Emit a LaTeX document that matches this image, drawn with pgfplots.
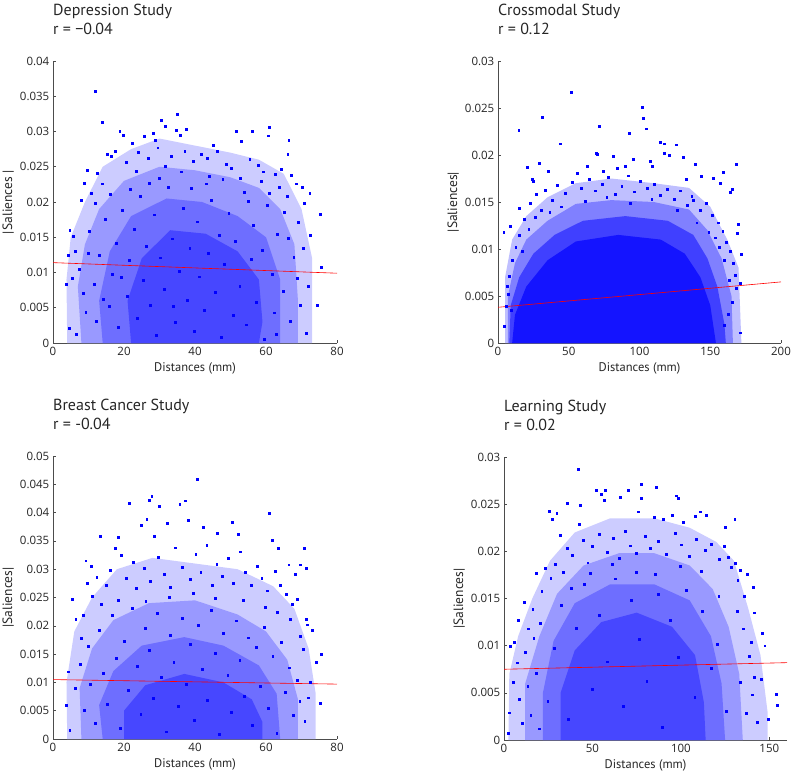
\documentclass[border=0pt]{standalone}
\usepackage{fontspec}
\setmainfont{PT Sans}
\newfontfamily\tickfont{Open Sans}
\usepackage{pgfplots}
\pgfplotsset{compat=1.18}
\definecolor{dotblue}{RGB}{0,0,255}
\newcommand{\tkf}{\tickfont\fontsize{11.5}{13}\selectfont}
\pgfplotsset{
  panel/.style={
    scale only axis, width=284pt, height=282pt, anchor=south west,
    axis x line*=bottom, axis y line*=left,
    axis line style={black!70, line width=0.6pt},
    tick align=inside, major tick length=3pt,
    tick style={black!70, line width=0.6pt},
    xmin=0, ymin=0,
    /pgf/number format/assume math mode=true,
    tick label style={font=\tkf, text=black!85, inner sep=3.5pt},
    xticklabel style={font=\tkf},
    yticklabel style={font=\tkf, /pgf/number format/.cd, fixed, precision=3},
    scaled y ticks=false, scaled x ticks=false,
    xlabel={Distances (mm)}, ylabel={|Saliences|},
    label style={font=\fontsize{12.5}{14}\selectfont, text=black!85},
    xlabel style={at={(axis description cs:0.5,0)}, anchor=north, yshift=-19pt, inner sep=0pt},
    ylabel style={at={(axis description cs:-0.158,0.5)}, anchor=center, font=\fontsize{13.5}{15}\selectfont},
  },
  mydots/.style={only marks, mark=square*, mark size=0.95pt, color=dotblue, mark options={draw=none, fill=dotblue}},
  fit/.style={red, line width=0.6pt},
  lv1/.style={fill=blue!20, draw=none},
  lv2/.style={fill=blue!40, draw=none},
  lv3/.style={fill=blue!57, draw=none},
  lv4/.style={fill=blue!72, draw=none},
}
\newcommand{\ttl}[3]{%
  \node[anchor=base west, inner sep=0pt, font=\fontsize{16}{19}\selectfont, text=black!85] at ([yshift=46pt]#1.north west) {#2};
  \node[anchor=base west, inner sep=0pt, font=\fontsize{16}{19}\selectfont, text=black!85] at ([yshift=27pt]#1.north west) {#3};
}
\begin{document}
\begin{tikzpicture}
\useasboundingbox (0,0) rectangle (794pt,-770pt);

% ---------------- Depression Study ----------------
\begin{axis}[panel, name=a1, at={(53pt,-343pt)}, xmax=80, ymax=0.04, ylabel={|Saliences |},
  xtick={0,20,40,60,80}, ytick={0,0.005,0.01,0.015,0.02,0.025,0.03,0.035,0.04}]
\addplot[lv1] coordinates {(4,0) (3.8,0.009) (5,0.015) (9,0.020) (14,0.025) (22,0.0275) (30,0.029) (40,0.028) (50,0.027) (58,0.026) (65,0.024) (70,0.019) (73,0.012) (73,0)} -- cycle;
\addplot[lv2] coordinates {(8,0) (7,0.008) (9,0.014) (13,0.019) (20,0.023) (30,0.025) (40,0.0245) (50,0.0235) (58,0.022) (64,0.019) (68,0.014) (69,0.006) (69,0)} -- cycle;
\addplot[lv3] coordinates {(14,0) (13,0.006) (16,0.013) (22,0.018) (32,0.0205) (42,0.020) (52,0.018) (60,0.015) (64,0.009) (64,0)} -- cycle;
\addplot[lv4] coordinates {(22,0) (21,0.006) (25,0.012) (33,0.016) (43,0.0155) (52,0.013) (58,0.009) (59,0.003) (58,0)} -- cycle;
\addplot[mydots] coordinates {
(11.8,.0357) (13.9,.0313) (30.6,.0316) (31.5,.0307) (35,.0325) (34.6,.0302) (37.6,.0303) (35.8,.0295) (18.8,.0301) (19.8,.0295)
(56,.0301) (61,.0306) (60.7,.0294) (66.4,.0288) (66.1,.0268) (51.6,.0300) (45.2,.0281) (28.2,.0298) (25.6,.0293) (28.7,.0288)
(75.3,.0183) (72.5,.0153) (75.6,.0107) (74.4,.0054) (72.3,.0212) (70.1,.0221) (70.8,.0198)
(4.7,.016) (4.2,.0125) (3.8,.0084) (4.5,.0021) (5.6,.0151) (6.2,.013) (5.5,.0092) (6.6,.0012) (8.9,.0227) (9.6,.0245) (8,.0203)
(15.2,.0268) (16.5,.0265) (17.4,.0272) (22.3,.0283) (24.1,.0271) (26.8,.0262) (29.5,.0277) (33.2,.0265) (37.1,.0272) (39.4,.0258)
(41.8,.0268) (43.5,.0262) (46.3,.0272) (48.7,.0254) (50.2,.0248) (53.1,.0286) (55.4,.0261) (57.8,.0252) (59.2,.0243) (62.5,.0239)
(64.3,.0247) (67.2,.0238) (68.5,.0226) (12.4,.0241) (13.8,.0226) (10.7,.0213) (11.9,.0198) (20.6,.0257) (23.5,.0244) (31.7,.0251)
(36.2,.0243) (44.1,.0237) (52.8,.0234) (58.6,.0229) (63.7,.0221) (65.9,.0208)
(7.3,.0105) (8.4,.0071) (9.2,.0044) (10.1,.0158) (11.5,.0083) (12.2,.0031) (13.1,.0124) (14.6,.0176) (15.8,.0052) (16.7,.0098)
(17.9,.0141) (18.3,.0022) (19.6,.0189) (20.9,.0067) (21.4,.0118) (22.8,.0161) (23.7,.0035) (24.6,.0208) (25.3,.0089) (26.2,.0137)
(27.5,.0054) (28.4,.0182) (29.1,.0011) (30.2,.0121) (31.3,.0076) (32.4,.0221) (33.6,.0148) (34.3,.0029) (35.5,.0102) (36.7,.0191)
(37.8,.0061) (38.5,.0135) (39.7,.0017) (40.6,.0172) (41.3,.0094) (42.5,.0046) (43.8,.0127) (44.6,.0203) (45.7,.0072) (46.9,.0153)
(47.4,.0008) (48.2,.0112) (49.5,.0184) (50.7,.0039) (51.3,.0145) (52.6,.0081) (53.9,.0214) (54.4,.0026) (55.8,.0119) (56.5,.0167)
(57.3,.0058) (58.9,.0132) (59.6,.0006) (60.4,.0195) (61.7,.0097) (62.3,.0043) (63.1,.0154) (64.8,.0074) (65.2,.0186) (66.7,.0031)
(67.8,.0122) (68.9,.0092) (69.6,.0053) (70.4,.0134) (71.2,.0014) (69.1,.0171) (62.9,.0012) (33.9,.0052) (27.1,.0227) (19.1,.0093)
(14.2,.0062) (9.8,.0128) (43.2,.0226) (47.8,.0232) (38.9,.0219) (29.8,.0234) (21.8,.0218) (16.2,.0211) (54.9,.0201) (60.9,.0213)
(66.3,.0149) (71.8,.0081)};
\addplot[fit] coordinates {(0,0.0114) (80,0.0099)};
\end{axis}
\ttl{a1}{Depression Study}{r = −0.04}

% ---------------- Crossmodal Study ----------------
\begin{axis}[panel, name=a2, at={(498pt,-343pt)}, width=283pt, xmax=200, ymax=0.03,
  xtick={0,50,100,150,200}, ytick={0,0.005,0.01,0.015,0.02,0.025,0.03}]
\addplot[fill=blue!25, draw=none] coordinates {(5,0) (5,0.007) (10,0.011) (20,0.0135) (35,0.0155) (55,0.017) (80,0.0175) (110,0.017) (135,0.0165) (150,0.0145) (162,0.011) (170,0.008) (172,0)} -- cycle;
\addplot[fill=blue!50, draw=none] coordinates {(7,0) (7,0.005) (12,0.0085) (20,0.011) (35,0.013) (55,0.0148) (80,0.0152) (110,0.015) (135,0.0142) (148,0.012) (158,0.009) (165,0.005) (166,0)} -- cycle;
\addplot[fill=blue!75, draw=none] coordinates {(8,0) (9,0.004) (15,0.007) (25,0.0095) (40,0.0115) (60,0.013) (90,0.0135) (120,0.013) (138,0.0115) (148,0.009) (155,0.006) (160,0.002) (161,0)} -- cycle;
\addplot[fill=blue!92, draw=none] coordinates {(10,0) (12,0.003) (20,0.006) (35,0.0088) (55,0.0108) (85,0.0115) (115,0.011) (132,0.0095) (143,0.007) (150,0.004) (154,0)} -- cycle;
\addplot[mydots] coordinates {
(51.5,.0267) (102.1,.0251) (102.8,.0239) (104.5,.0228) (31.1,.0240) (14.6,.0226) (71.8,.0231) (92.7,.0223) (44,.0212) (114.6,.0214)
(117.4,.0212) (125.9,.0211) (117.4,.0202) (121.2,.0200) (130.6,.0198) (69.4,.0202) (70.4,.0201) (81.6,.0199) (29.4,.0191) (20.5,.0187)
(139.1,.0190) (168.2,.0190) (159.3,.0182) (107.5,.0193) (35.3,.0183) (24,.0174) (24.7,.0172) (15,.0143) (4,.0118) (8.7,.0124)
(171.8,.0094) (171,.0064) (171.3,.0011) (169.2,.0117) (169.9,.0126) (165.2,.0164) (164,.016) (156.9,.017) (151.8,.0175) (143.5,.0177)
(132.9,.0174) (136.9,.0156) (74.6,.0183) (55.8,.0181) (62.8,.0188) (84,.0186) (89.9,.0188) (95.8,.0196) (109.2,.0188) (6.4,.006)
(4.5,.0018) (5.9,.0039)
(18.2,.0132) (22.5,.0149) (27.3,.0158) (33.6,.0163) (38.4,.0152) (42.1,.0168) (47.5,.0159) (52.3,.0171) (58.7,.0165) (64.2,.0174)
(68.9,.0162) (73.5,.0169) (78.1,.0176) (82.7,.0158) (87.4,.0167) (91.8,.0178) (96.3,.0161) (100.5,.0172) (105.7,.0165) (110.2,.0169)
(114.8,.0157) (119.6,.0164) (124.3,.0153) (128.9,.0162) (133.5,.0147) (138.1,.0152) (142.7,.0141) (147.2,.0149) (151.6,.0136) (155.3,.0128)
(158.8,.0119) (161.4,.0107) (163.9,.0098) (166.2,.0085) (167.5,.0072) (168.3,.0058) (165.7,.0043) (162.4,.0031) (160.1,.0019) (163.2,.0067)
(159.6,.0088) (156.1,.0102) (153.4,.0112) (12.5,.0102) (10.3,.0088) (8.2,.0071) (7.4,.0052) (9.6,.0035) (14.8,.0115) (17.3,.0098)
(21.7,.0121) (26.1,.0134) (30.8,.0141) (36.5,.0139) (44.7,.0145) (61.4,.0151) (76.8,.0155) (93.2,.0149) (108.6,.0153) (126.7,.0141)
(140.4,.0128) (148.9,.0118)};
\addplot[fit] coordinates {(0,0.0038) (200,0.0065)};
\end{axis}
\ttl{a2}{Crossmodal Study}{r = 0.12}

% ---------------- Breast Cancer Study ----------------
\begin{axis}[panel, name=a3, at={(53pt,-739pt)}, height=283pt, xmax=80, ymax=0.05,
  xtick={0,20,40,60,80}, ytick={0,0.005,0.01,0.015,0.02,0.025,0.03,0.035,0.04,0.045,0.05}]
\addplot[lv1] coordinates {(4,0) (3.8,0.010) (6,0.019) (11,0.025) (18,0.030) (28,0.032) (40,0.031) (52,0.030) (62,0.027) (68,0.023) (72,0.016) (74,0.008) (74,0)} -- cycle;
\addplot[lv2] coordinates {(8,0) (7.5,0.009) (11,0.016) (17,0.021) (27,0.024) (40,0.0245) (52,0.022) (60,0.019) (66,0.014) (69,0.007) (69,0)} -- cycle;
\addplot[lv3] coordinates {(14,0) (13,0.006) (17,0.012) (25,0.0165) (37,0.018) (48,0.0165) (58,0.013) (63,0.008) (64,0)} -- cycle;
\addplot[lv4] coordinates {(20,0) (20,0.005) (26,0.0095) (37,0.0115) (48,0.010) (56,0.007) (59,0.003) (59,0)} -- cycle;
\addplot[mydots] coordinates {
(40.5,.0459) (27.8,.0429) (27.1,.0422) (21.5,.0416) (37.2,.0421) (35.7,.0415) (29.8,.0411) (61,.0399) (26.4,.0388) (38.1,.0386)
(24.9,.0378) (32.2,.0381) (50.4,.0383) (42.4,.0375) (13.2,.0359) (18.4,.0356) (28.4,.0358) (46.3,.0364) (52.2,.0362) (61.8,.0351)
(70.8,.0337) (63.5,.0337) (17.4,.0337) (9.2,.0315) (10.8,.0306) (5.5,.0247) (6.4,.0211) (4.2,.0119) (3.8,.0059) (4.7,.0016)
(75.5,.015) (75.3,.0064) (74.2,.0135) (73,.0193) (71.5,.0202) (71.3,.0211) (69.6,.0308) (71.3,.0301) (68.2,.0291) (66.4,.0308)
(9.6,.0275) (8.5,.0218) (8,.0178)
(12.3,.0286) (14.9,.0271) (16.2,.0298) (19.1,.0325) (20.7,.0284) (22.6,.0312) (23.4,.0266) (25.8,.0301) (27.3,.0279) (29.6,.0322)
(31.2,.0291) (33.1,.0268) (34.5,.0338) (36.4,.0303) (38.7,.0282) (40.2,.0327) (41.6,.0294) (43.3,.0342) (44.8,.0271) (46.1,.0309)
(47.7,.0288) (49.3,.0319) (50.8,.0276) (52.7,.0331) (54.2,.0294) (55.9,.0272) (57.4,.0306) (58.8,.0284) (60.3,.0262) (62.6,.0296)
(64.1,.0271) (65.7,.0256) (67.3,.0238) (68.9,.0247) (11.1,.0252) (13.6,.0238) (18.3,.0245) (26.1,.0243) (32.7,.0251) (39.5,.0258)
(45.6,.0249) (53.5,.0246) (59.7,.0233) (63.2,.0224) (66.8,.0212) (69.7,.0182) (70.6,.0158) (72.4,.0101) (71.8,.0073) (70.9,.0032)
(6.3,.0089) (7.6,.0132) (8.7,.0051) (9.9,.0164) (10.6,.0097) (11.8,.0028) (12.9,.0193) (14.1,.0116) (15.3,.0061) (16.6,.0218)
(17.8,.0142) (18.9,.0019) (20.1,.0173) (21.3,.0087) (22.4,.0231) (23.6,.0128) (24.7,.0044) (25.9,.0196) (27.0,.0157) (28.2,.0072)
(29.3,.0222) (30.5,.0109) (31.8,.0013) (32.9,.0184) (34.0,.0136) (35.2,.0058) (36.3,.0213) (37.5,.0097) (38.6,.0167) (39.8,.0033)
(40.9,.0201) (42.1,.0124) (43.4,.0069) (44.5,.0228) (45.7,.0151) (46.8,.0008) (48.0,.0187) (49.2,.0113) (50.3,.0047) (51.5,.0209)
(52.6,.0139) (53.8,.0076) (55.0,.0179) (56.1,.0025) (57.3,.0162) (58.4,.0094) (59.6,.0198) (60.7,.0054) (61.9,.0147) (63.0,.0011)
(64.2,.0171) (65.3,.0083) (66.5,.0126) (67.6,.0042) (68.8,.0104) (69.5,.0067)};
\addplot[fit] coordinates {(0,0.0105) (80,0.0097)};
\end{axis}
\ttl{a3}{Breast Cancer Study}{r = -0.04}

% ---------------- Learning Study ----------------
\begin{axis}[panel, name=a4, at={(504pt,-740pt)}, width=283pt, height=283pt, xmax=160, ymax=0.03,
  xtick={0,50,100,150}, ytick={0,0.005,0.01,0.015,0.02,0.025,0.03}]
\addplot[lv1] coordinates {(2.5,0) (3,0.007) (8,0.011) (16,0.015) (26,0.019) (40,0.022) (60,0.0235) (85,0.0235) (105,0.0225) (120,0.021) (130,0.019) (138,0.014) (145,0.009) (149,0.003) (149,0)} -- cycle;
\addplot[lv2] coordinates {(12,0) (12,0.006) (20,0.011) (30,0.0155) (45,0.0185) (65,0.0198) (85,0.0198) (105,0.0185) (118,0.016) (127,0.012) (133,0.007) (135,0)} -- cycle;
\addplot[lv3] coordinates {(22,0) (22,0.005) (28,0.0105) (40,0.0145) (60,0.0165) (85,0.0165) (105,0.0148) (117,0.011) (123,0.006) (125,0)} -- cycle;
\addplot[lv4] coordinates {(32,0) (32,0.005) (40,0.0095) (55,0.0125) (75,0.0135) (95,0.012) (108,0.009) (113,0.004) (114,0)} -- cycle;
\addplot[mydots] coordinates {
(41.7,.0287) (77.7,.0271) (86,.0268) (52.1,.0265) (57.2,.0265) (70.4,.0265) (54.9,.0261) (97.4,.0259) (98.7,.0256) (56.6,.0254)
(35.5,.0251) (43,.0249) (65.7,.0257) (77.4,.0256) (25.7,.0243) (29.8,.0240) (27,.0234) (75.7,.0242) (94.9,.0238) (110.9,.0242)
(108.1,.0237) (114.2,.0238) (130.4,.0234) (125.1,.0226) (101.1,.0231) (90.2,.0234) (84.9,.0236) (42.6,.0229) (31.7,.0217) (23.2,.0182)
(18.1,.0177) (11.3,.0146) (8.1,.0127) (5.7,.0104) (3.4,.0099) (3,.0029) (2.5,.0007) (141.1,.0162) (146.2,.0113) (147.4,.0100)
(145.5,.0064) (153.8,.0049) (154.7,.0037) (149.6,.0022) (141.7,.0135) (135.8,.0152) (133.6,.0180) (137.4,.0176) (130.8,.0187) (127,.0194)
(141.7,.0067)
(35.8,.0203) (38.4,.0196) (44.6,.0212) (47.3,.0188) (49.8,.0205) (53.6,.0218) (58.2,.0199) (61.7,.0214) (64.9,.0193) (68.5,.0221)
(71.3,.0206) (74.8,.0198) (79.6,.0216) (82.4,.0203) (87.1,.0211) (91.5,.0197) (96.8,.0219) (100.3,.0207) (104.6,.0195) (108.9,.0213)
(113.5,.0201) (117.2,.0208) (121.8,.0192) (124.6,.0205) (128.3,.0183) (132.1,.0169) (26.4,.0172) (29.1,.0186) (33.7,.0178) (21.3,.0158)
(16.2,.0139) (13.7,.0118)
(5.2,.0061) (7.4,.0082) (8.8,.0043) (10.5,.0018) (11.9,.0093) (13.4,.0057) (15.1,.0026) (16.8,.0108) (18.3,.0071) (19.7,.0012)
(20.6,.0124) (140.2,.0048) (138.5,.0089) (136.8,.0028) (135.1,.0118) (133.4,.0061) (131.6,.0137) (143.3,.0019) (139.8,.0104)
(24.7,.0041) (28.3,.0097) (32.5,.0143) (36.1,.0022) (40.6,.0119) (45.2,.0165) (49.7,.0054) (53.8,.0132) (58.4,.0083) (62.9,.0171)
(67.3,.0036) (71.8,.0148) (76.2,.0107) (80.7,.0062) (85.3,.0176) (89.6,.0014) (94.1,.0127) (98.7,.0088) (103.2,.0159) (107.8,.0045)
(112.3,.0137) (116.9,.0076) (121.4,.0152) (125.8,.0031) (120.6,.0102) (111.4,.0179) (99.6,.0184) (87.2,.0155) (74.6,.0178) (61.3,.0186)
(48.5,.0177) (37.9,.0161)};
\addplot[fit] coordinates {(0,0.0075) (160,0.0082)};
\end{axis}
\ttl{a4}{Learning Study}{r = 0.02}
\end{tikzpicture}
\end{document}
